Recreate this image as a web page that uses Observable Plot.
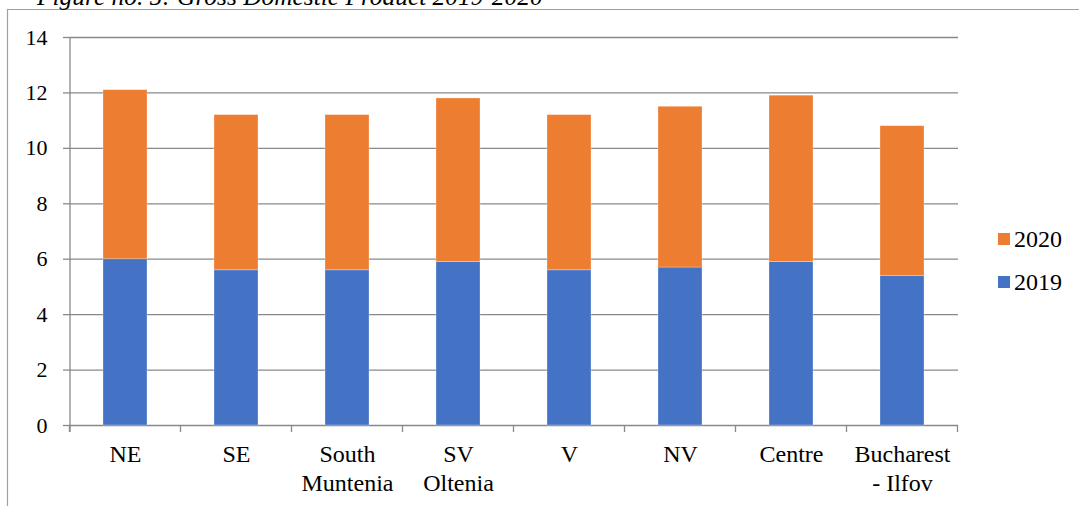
<!DOCTYPE html>
<html>
<head>
<meta charset="utf-8">
<script src="https://cdn.jsdelivr.net/npm/d3@7"></script>
<script src="https://cdn.jsdelivr.net/npm/@observablehq/plot@0.6"></script>
<style>
  html, body { margin: 0; padding: 0; background: #fff; }
  #chart { width: 1079px; height: 506px; overflow: hidden; }
  #chart svg, #chart svg text { font-family: "Liberation Serif", "Times New Roman", serif !important; }
</style>
</head>
<body>
<div id="chart"></div>
<script>
const titleText = "Figure no. 5: Gross Domestic Product 2019-2020";
const regions = ["NE", "SE", "South Muntenia", "SV Oltenia", "V", "NV", "Centre", "Bucharest - Ilfov"];
const regionLabels = ["NE", "SE", "South\nMuntenia", "SV\nOltenia", "V", "NV", "Centre", "Bucharest\n- Ilfov"];
const series = ["2019", "2020"];
const seriesColors = ["#4472C4", "#ED7D31"];
const values2019 = [6.0, 5.6, 5.6, 5.9, 5.6, 5.7, 5.9, 5.4];
const values2020 = [6.1, 5.6, 5.6, 5.9, 5.6, 5.8, 6.0, 5.4];
const yTicks = [0, 2, 4, 6, 8, 10, 12, 14];

const data = [];
regions.forEach((r, i) => {
  data.push({region: r, year: "2019", value: values2019[i]});
  data.push({region: r, year: "2020", value: values2020[i]});
});
const labelOf = new Map(regions.map((r, i) => [r, regionLabels[i]]));

const font = "Liberation Serif";
const grey = "#898989";

const chart = Plot.plot({
  width: 1079,
  height: 506,
  marginLeft: 70,
  marginRight: 121,
  marginTop: 37,
  marginBottom: 81,
  style: {fontFamily: font, fontSize: "22px", color: "#000", background: "#fff"},
  x: {domain: regions, paddingInner: 0.6, paddingOuter: 0.3, label: null},
  y: {domain: [0, 14], label: null},
  color: {domain: series, range: seriesColors},
  marks: [
    Plot.ruleY(yTicks, {stroke: grey, strokeWidth: 1.3}),
    Plot.barY(data, Plot.stackY({x: "region", y: "value", fill: "year", order: series, stroke: "#fff", strokeOpacity: 0.35, strokeWidth: 0.8})),
    Plot.axisY({ticks: yTicks, tickSize: 7, tickPadding: 16, stroke: grey, strokeWidth: 1.3, fontSize: 22, fontFamily: font, fill: "#000", label: null}),
    Plot.axisX({tickSize: 0, tickPadding: 17, fontSize: 24, fontFamily: font, fill: "#000", lineHeight: 1.17, tickFormat: d => labelOf.get(d), label: null})
  ]
});

document.getElementById("chart").appendChild(chart);

const svg = d3.select(chart);
const sx = chart.scale("x");
const sy = chart.scale("y");
const step = sx.step;
const y0 = sy.apply(0);
// vertical axis line
svg.append("line")
  .attr("x1", 70).attr("x2", 70)
  .attr("y1", sy.apply(14)).attr("y2", y0 + 7)
  .attr("stroke", grey).attr("stroke-width", 1.3);
// band boundary ticks on x axis
const firstLeft = sx.apply(regions[0]) - (step - sx.bandwidth) / 2;
for (let i = 0; i <= regions.length; i++) {
  const x = firstLeft + i * step;
  svg.append("line")
    .attr("x1", x).attr("x2", x)
    .attr("y1", y0).attr("y2", y0 + 7)
    .attr("stroke", grey).attr("stroke-width", 1.3);
}
// frame of figure
svg.append("path")
  .attr("d", "M7.5,506 L7.5,9.5 L1079,9.5")
  .attr("fill", "none").attr("stroke", "#a0a0a0").attr("stroke-width", 1.2);
// clipped title
svg.append("text")
  .attr("x", 37).attr("y", 5)
  .attr("text-anchor", "start")
  .attr("font-family", font).attr("font-style", "italic")
  .attr("font-size", 25.4).attr("fill", "#000")
  .text(titleText);
// legend (2020 above 2019)
const legendItems = series.map((s, i) => ({s, c: seriesColors[i]})).reverse();
legendItems.forEach((d, i) => {
  const y = 233 + i * 43;
  svg.append("rect").attr("x", 998).attr("y", y).attr("width", 12).attr("height", 12).attr("fill", d.c);
  svg.append("text").attr("x", 1014).attr("y", y + 6).attr("dy", "0.35em")
    .attr("text-anchor", "start")
    .attr("font-family", font).attr("font-size", 24).attr("fill", "#000").text(d.s);
});
</script>
</body>
</html>
